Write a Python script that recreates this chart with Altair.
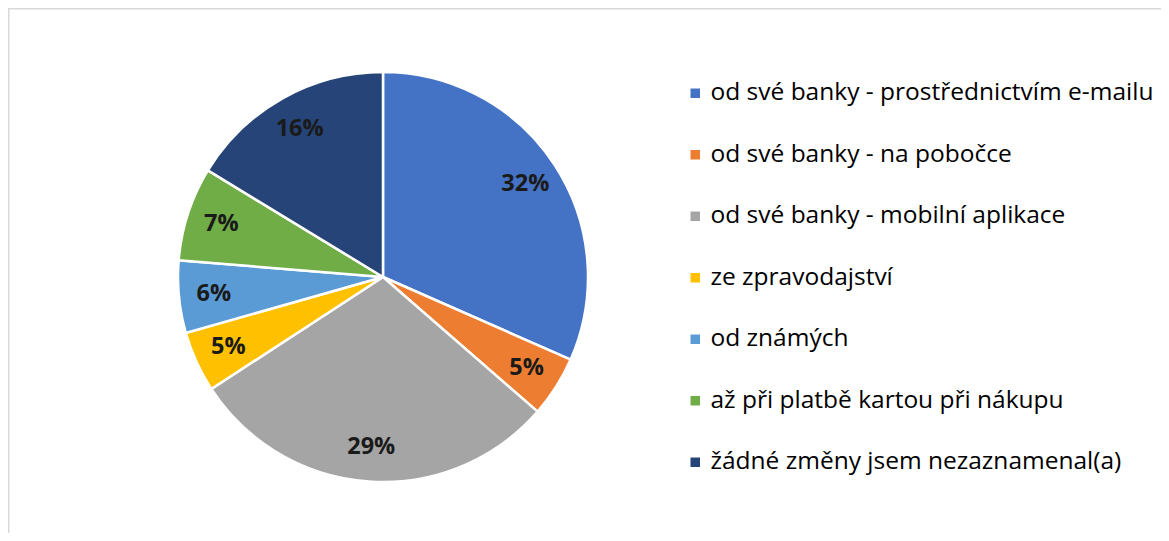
import altair as alt
import pandas as pd

categories = [
    "od své banky - prostřednictvím e-mailu",
    "od své banky - na pobočce",
    "od své banky - mobilní aplikace",
    "ze zpravodajství",
    "od známých",
    "až při platbě kartou při nákupu",
    "žádné změny jsem nezaznamenal(a)",
]
values = [31.6, 4.8, 29.4, 4.8, 5.7, 7.4, 16.3]
colors = ["#4472C4", "#ED7D31", "#A5A5A5", "#FFC000", "#5B9BD5", "#70AD47", "#264478"]

df = pd.DataFrame({
    "kategorie": categories,
    "podil": [v / 100 for v in values],
    "poradi": list(range(len(categories))),
})

W, H = 1153, 525
CX, CY = 375, 269

base = alt.Chart(df).encode(
    theta=alt.Theta("podil:Q", stack=True),
    order=alt.Order("poradi:Q"),
    x=alt.value(CX),
    y=alt.value(CY),
)

pie = base.mark_arc(radius=205, stroke="white", strokeWidth=2.5).encode(
    color=alt.Color(
        "kategorie:N",
        scale=alt.Scale(domain=categories, range=colors),
        sort=categories,
        legend=alt.Legend(
            title=None,
            orient="none",
            legendX=675,
            legendY=73,
            symbolType="square",
            symbolSize=90,
            symbolStrokeWidth=0,
            labelFont="Open Sans",
            labelFontSize=24.5,
            labelColor="#000000",
            labelLimit=700,
            rowPadding=36.5,
            labelOffset=3,
        ),
    )
)

labels = base.mark_text(
    radius=170, font="Open Sans", fontSize=23.5, fontWeight="bold", color="#1a1a1a"
).encode(text=alt.Text("podil:Q", format=".0%"))

frame_df = pd.DataFrame({"k": [0]})
top = alt.Chart(frame_df).mark_rule(color="#d9d9d9", strokeWidth=3).encode(
    x=alt.value(0), x2=alt.value(W), y=alt.value(0)
)
left = alt.Chart(frame_df).mark_rule(color="#d9d9d9", strokeWidth=3).encode(
    x=alt.value(0), y=alt.value(0), y2=alt.value(H)
)

chart = alt.layer(pie, labels, top, left).properties(
    width=W, height=H, padding=0, autosize=alt.AutoSizeParams(type="none")
).configure_view(stroke=None)

chart.save("out.html", embed_options={"renderer": "svg", "actions": False})
